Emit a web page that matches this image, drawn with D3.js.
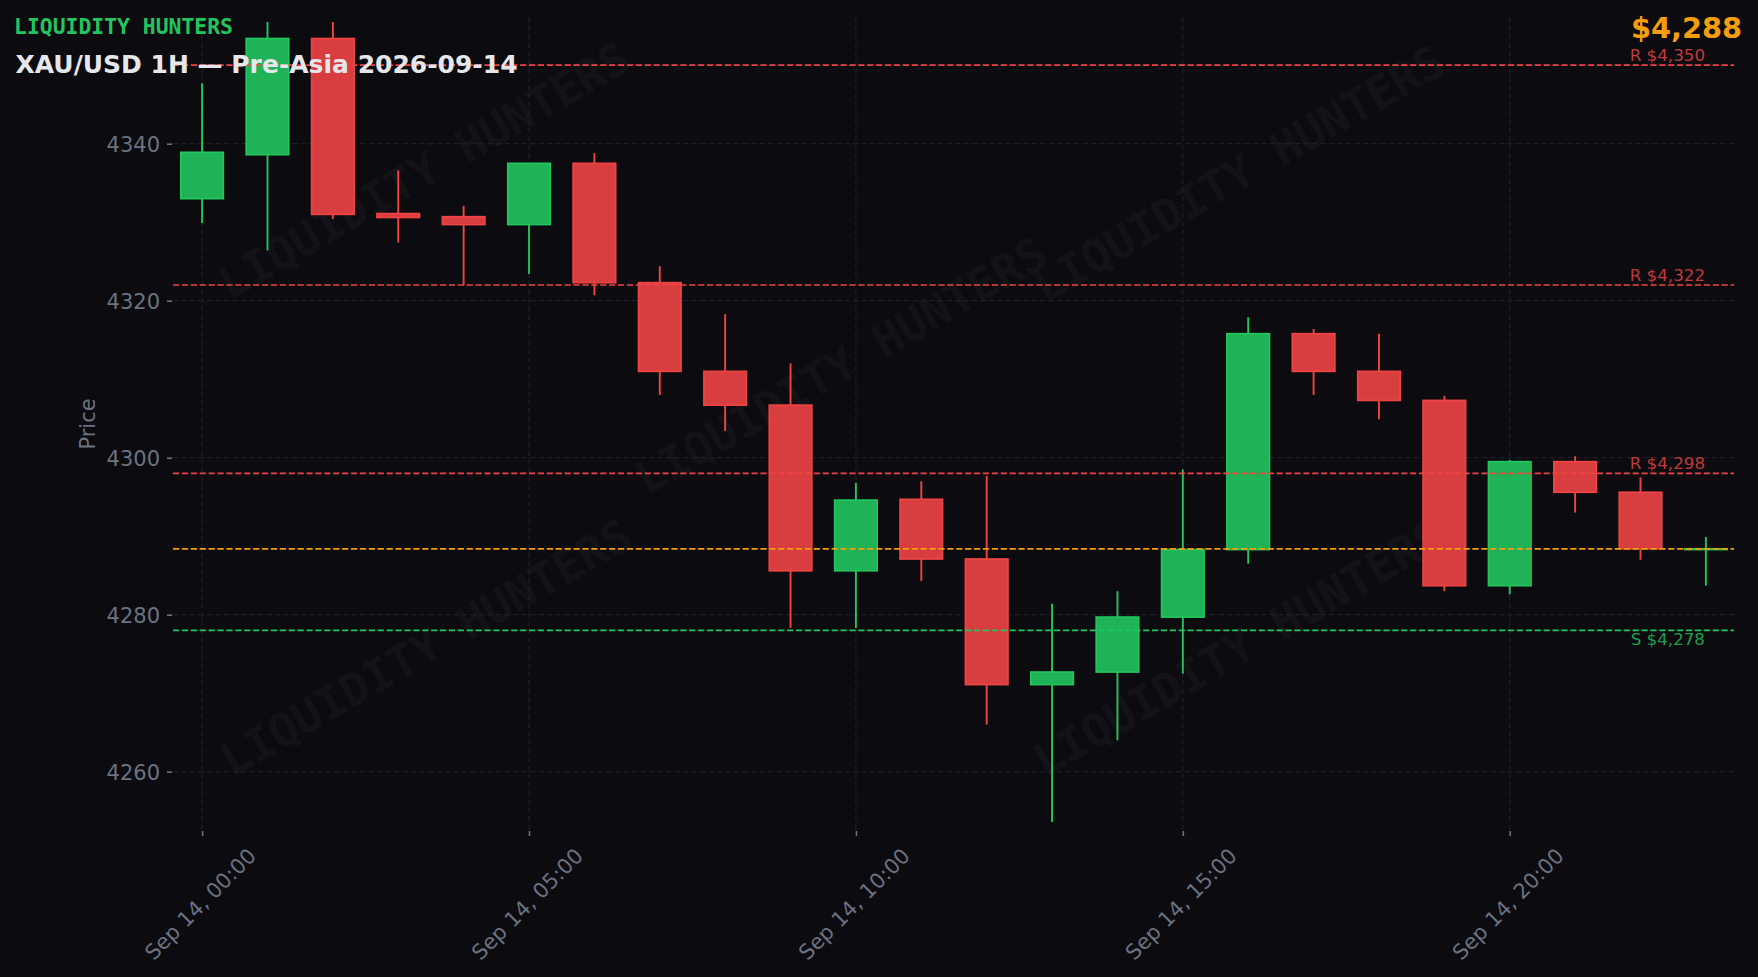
<!DOCTYPE html>
<html>
<head>
<meta charset="utf-8">
<script src="https://cdn.jsdelivr.net/npm/d3@7"></script>
<style>
  html, body { margin: 0; padding: 0; background: #0b0b10; }
  svg { display: block; }
</style>
</head>
<body>
<svg id="chart" width="1758" height="977"></svg>
<script>
// ---- data ----
const times = ["00:00","01:00","02:00","03:00","04:00","05:00","06:00","07:00","08:00","09:00","10:00","11:00",
               "12:00","13:00","14:00","15:00","16:00","17:00","18:00","19:00","20:00","21:00","22:00","23:00"];
const opens  = [4333.0,4338.6,4353.4,4331.1,4330.7,4329.7,4337.5,4322.3,4311.0,4306.7,4285.6,4294.7,
                4287.1,4271.1,4272.7,4279.7,4288.3,4315.8,4311.0,4307.3,4283.7,4299.5,4295.6,4288.3];
const highs  = [4347.7,4355.5,4355.5,4336.6,4332.1,4337.5,4338.8,4324.4,4318.3,4312.0,4296.8,4297.0,
                4297.7,4281.4,4283.0,4298.5,4317.9,4316.4,4315.8,4307.9,4299.7,4300.2,4297.5,4289.9];
const lows   = [4329.9,4326.4,4330.4,4327.4,4322.0,4323.4,4320.7,4308.0,4303.4,4278.3,4278.3,4284.3,
                4266.0,4253.6,4264.0,4272.5,4286.5,4308.0,4304.9,4283.0,4282.6,4293.0,4287.0,4283.7];
const closes = [4338.9,4353.4,4331.0,4330.6,4329.7,4337.5,4322.3,4311.0,4306.7,4285.6,4294.6,4287.1,
                4271.1,4272.7,4279.7,4288.3,4315.8,4311.0,4307.3,4283.7,4299.5,4295.6,4288.4,4288.4];
const resistance = [4350, 4322, 4298];
const support = [4278];
const currentPrice = 4288.4;
const yTicks = [4260, 4280, 4300, 4320, 4340];
const xTickHours = ["00:00","05:00","10:00","15:00","20:00"];
const dateStr = "2026-09-14";
const brand = "LIQUIDITY HUNTERS";
const title = "XAU/USD 1H — Pre-Asia 2026-09-14";

// ---- layout ----
const W = 1758, H = 977;
const plot = { left: 173, right: 1734, top: 17, bottom: 831 };
const BG = "#0b0b10", GREEN = "#22c55e", RED = "#ef4444", ORANGE = "#f59e0b", GRAY = "#6b7280", GRID = "#23242c";

const parse = d3.utcParse("%Y-%m-%d %H:%M");
const candles = times.map((t, i) => ({ t: parse(dateStr + " " + t), o: opens[i], h: highs[i], l: lows[i], c: closes[i] }));
const HOUR = 3600 * 1000;
const t0 = candles[0].t, tN = candles[candles.length - 1].t;

const x = d3.scaleUtc()
  .domain([new Date(+t0 - 0.445 * HOUR), new Date(+tN + 0.43 * HOUR)])
  .range([plot.left, plot.right]);
const y = d3.scaleLinear().domain([4252.45, 4356.14]).range([plot.bottom, plot.top]);
const bodyW = x(new Date(+t0 + 0.65 * HOUR)) - x(t0);

const svg = d3.select("#chart");
svg.append("rect").attr("width", W).attr("height", H).attr("fill", BG);

// watermarks
const wm = [[424, 171], [841, 366], [1239, 174], [426, 648], [1239, 648]];
svg.append("g").selectAll("text").data(wm).join("text")
  .attr("transform", d => `translate(${d[0]},${d[1]}) rotate(-30)`)
  .attr("text-anchor", "middle").attr("dominant-baseline", "central")
  .attr("font-family", "DejaVu Sans Mono").attr("font-weight", "bold").attr("font-size", 45.5)
  .attr("fill", "rgba(255,255,255,0.05)")
  .text(brand);

// grid
const xTickDates = xTickHours.map(h => parse(dateStr + " " + h));
const grid = svg.append("g").attr("stroke", GRID).attr("stroke-width", 1).attr("stroke-dasharray", "5.5,3");
grid.selectAll(".gy").data(yTicks).join("line")
  .attr("x1", plot.left).attr("x2", plot.right).attr("y1", d => y(d)).attr("y2", d => y(d));
grid.selectAll(".gx").data(xTickDates).join("line")
  .attr("x1", d => x(d)).attr("x2", d => x(d)).attr("y1", plot.top).attr("y2", plot.bottom);

// axes
const yAxis = svg.append("g").attr("transform", `translate(${plot.left - 1},0)`)
  .call(d3.axisLeft(y).tickValues(yTicks).tickSize(5).tickPadding(7).tickFormat(d3.format("d")));
yAxis.select(".domain").remove();
yAxis.selectAll("line").attr("stroke", GRAY).attr("stroke-width", 1.6);
yAxis.selectAll("text").attr("fill", GRAY).attr("font-family", "DejaVu Sans").attr("font-size", 21)
  .attr("dy", null).attr("dominant-baseline", null).attr("transform", null)
  .attr("y", 7.5);

const fmt = d3.utcFormat("%b %d, %H:%M");
const xAxis = svg.append("g").attr("transform", `translate(0,${plot.bottom})`)
  .call(d3.axisBottom(x).tickValues(xTickDates).tickSize(5).tickFormat(fmt));
xAxis.select(".domain").remove();
xAxis.selectAll("line").attr("stroke", GRAY).attr("stroke-width", 1.6);
xAxis.selectAll("text").each(function () {
  const t = d3.select(this);
  t.attr("fill", GRAY).attr("font-family", "DejaVu Sans").attr("font-size", 21)
   .attr("y", 0).attr("dy", null).attr("text-anchor", "middle").attr("dominant-baseline", "central");
  const L = this.getComputedTextLength();
  const half = (L + 21) / (2 * Math.SQRT2);
  t.attr("transform", `translate(-2,${845 - plot.bottom + half}) rotate(-45)`);
});

svg.append("text").attr("transform", `translate(95,${(plot.top + plot.bottom) / 2}) rotate(-90)`)
  .attr("text-anchor", "middle").attr("font-family", "DejaVu Sans").attr("font-size", 21)
  .attr("fill", GRAY).text("Price");

// candles
const cg = svg.append("g");
const col = d => d.c >= d.o ? GREEN : RED;
const fillCol = d => d.c >= d.o ? "rgb(32,178,86)" : "rgb(216,62,63)";
cg.selectAll(".wick").data(candles).join("line")
  .attr("x1", d => x(d.t)).attr("x2", d => x(d.t))
  .attr("y1", d => y(d.h)).attr("y2", d => y(d.l))
  .attr("stroke", col).attr("stroke-width", 1.9);
cg.selectAll(".body").data(candles).join("rect")
  .attr("x", d => x(d.t) - bodyW / 2).attr("width", bodyW)
  .attr("y", d => y(Math.max(d.o, d.c)))
  .attr("height", d => Math.max(0.01, Math.abs(y(d.o) - y(d.c))))
  .attr("fill", fillCol).attr("stroke", col).attr("stroke-width", 1.7);

// levels
const lv = svg.append("g").attr("stroke-width", 1.7).attr("stroke-dasharray", "6.2,2.7");
lv.selectAll(".r").data(resistance).join("line")
  .attr("x1", plot.left).attr("x2", plot.right).attr("y1", d => y(d)).attr("y2", d => y(d)).attr("stroke", RED);
lv.selectAll(".s").data(support).join("line")
  .attr("x1", plot.left).attr("x2", plot.right).attr("y1", d => y(d)).attr("y2", d => y(d)).attr("stroke", GREEN);
lv.append("line").attr("x1", plot.left).attr("x2", plot.right)
  .attr("y1", y(currentPrice)).attr("y2", y(currentPrice)).attr("stroke", ORANGE);

const money = d3.format("$,.0f");
svg.append("g").selectAll("text").data(resistance).join("text")
  .attr("x", 1705).attr("y", d => y(d) - 4).attr("text-anchor", "end")
  .attr("font-family", "DejaVu Sans").attr("font-size", 16.7).attr("fill", "rgb(193,57,58)")
  .text(d => "R " + money(d));
svg.append("g").selectAll("text").data(support).join("text")
  .attr("x", 1705).attr("y", d => y(d) + 14.5).attr("text-anchor", "end")
  .attr("font-family", "DejaVu Sans").attr("font-size", 16.7).attr("fill", "rgb(29,160,78)")
  .text(d => "S " + money(d));

// header texts
svg.append("text").attr("x", 14).attr("y", 33.5)
  .attr("font-family", "DejaVu Sans Mono").attr("font-weight", "bold").attr("font-size", 21.4)
  .attr("fill", GREEN).text(brand);
svg.append("text").attr("x", 15.5).attr("y", 73)
  .attr("font-family", "DejaVu Sans").attr("font-weight", "bold").attr("font-size", 25)
  .attr("fill", "#e5e7eb").text(title);
svg.append("text").attr("x", 1742).attr("y", 38).attr("text-anchor", "end")
  .attr("font-family", "DejaVu Sans").attr("font-weight", "bold").attr("font-size", 28.8)
  .attr("fill", ORANGE).text(money(currentPrice));
</script>
</body>
</html>
